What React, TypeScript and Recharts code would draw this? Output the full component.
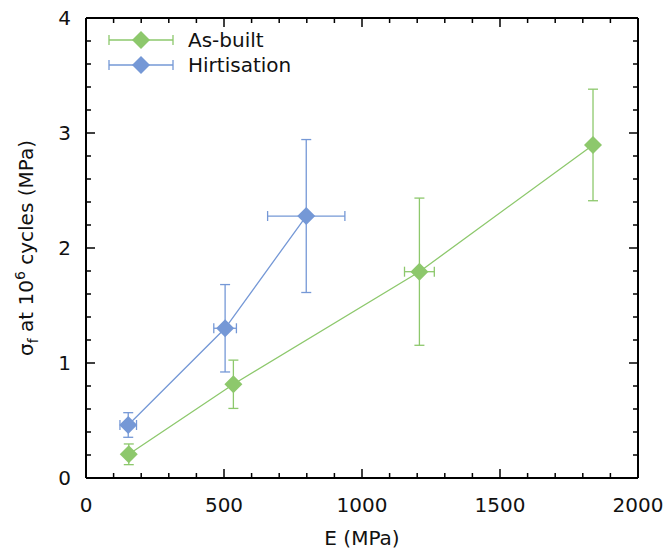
import React from "react";
import { ScatterChart, Scatter, XAxis, YAxis, ErrorBar } from "recharts";

const GREEN = "#8dc86c";
const BLUE = "#7598d6";
const FONT = "DejaVu Sans, sans-serif";

// As-built
const asBuiltE = [155, 534, 1208, 1837];
const asBuiltEErr = [10, 10, 54, 10];
const asBuiltSigma = [0.206, 0.815, 1.794, 2.896];
const asBuiltSigmaErr = [0.09, 0.21, 0.64, 0.485];

// Hirtisation
const hirtE = [153, 504, 798];
const hirtEErr = [30, 41, 140];
const hirtSigma = [0.461, 1.302, 2.278];
const hirtSigmaErr = [0.107, 0.38, 0.665];

const X_MAJOR = [0, 500, 1000, 1500, 2000];
const X_MINOR = [
  0, 100, 200, 300, 400, 500, 600, 700, 800, 900, 1000, 1100, 1200, 1300,
  1400, 1500, 1600, 1700, 1800, 1900, 2000,
];
const Y_MAJOR = [0, 1, 2, 3, 4];
const Y_MINOR = [
  0, 0.2, 0.4, 0.6, 0.8, 1, 1.2, 1.4, 1.6, 1.8, 2, 2.2, 2.4, 2.6, 2.8, 3, 3.2,
  3.4, 3.6, 3.8, 4,
];

const SERIES = [
  { name: "As-built", color: GREEN },
  { name: "Hirtisation", color: BLUE },
];

const build = (e: number[], eErr: number[], s: number[], sErr: number[]) =>
  e.map((x, i) => ({ x, xErr: eErr[i], y: s[i], yErr: sErr[i] }));

const asBuilt = build(asBuiltE, asBuiltEErr, asBuiltSigma, asBuiltSigmaErr);
const hirt = build(hirtE, hirtEErr, hirtSigma, hirtSigmaErr);

const W = 668;
const H = 551;
const MARGIN = { top: 18, right: 30, bottom: 73, left: 86 };
const PLOT_W = W - MARGIN.left - MARGIN.right;
const PLOT_H = H - MARGIN.top - MARGIN.bottom;

// axes with a zero size are skipped by recharts, so use a hair instead
const THIN = 0.001;
const MAJOR_LEN = 9;
const MINOR_LEN = 5;

const diamond = (color: string) => (props: any) => {
  const { cx, cy } = props;
  const r = 9;
  return (
    <polygon
      points={`${cx},${cy - r} ${cx + r},${cy} ${cx},${cy + r} ${cx - r},${cy}`}
      fill={color}
    />
  );
};

const axisLine = { stroke: "#000", strokeWidth: 2 };
const textProps = { fill: "#111", fontSize: 20, fontFamily: FONT };

// tickSize/tickMargin are 0, so the tick gets the point on the axis line;
// it draws the inward mark there and the mirrored one on the opposite side
function XTick(p: any) {
  const { x, y, payload } = p;
  const major = X_MAJOR.includes(payload.value);
  const len = major ? MAJOR_LEN : MINOR_LEN;
  const top = y - PLOT_H;
  return (
    <g>
      <line x1={x} y1={y} x2={x} y2={y - len} stroke="#000" strokeWidth={1.5} />
      <line x1={x} y1={top} x2={x} y2={top + len} stroke="#000" strokeWidth={1.5} />
      {major && (
        <text x={x} y={y + 34} textAnchor="middle" {...textProps}>
          {payload.value}
        </text>
      )}
    </g>
  );
}

// drawn from the right-hand axis; the left side is one plot width away
function YTick(p: any) {
  const { x, y, payload } = p;
  const major = Y_MAJOR.includes(payload.value);
  const len = major ? MAJOR_LEN : MINOR_LEN;
  const left = x - PLOT_W;
  return (
    <g>
      <line x1={x} y1={y} x2={x - len} y2={y} stroke="#000" strokeWidth={1.5} />
      <line x1={left} y1={y} x2={left + len} y2={y} stroke="#000" strokeWidth={1.5} />
      {major && (
        <text x={left - 15} y={y} dy="0.36em" textAnchor="end" {...textProps}>
          {payload.value}
        </text>
      )}
    </g>
  );
}

function LegendIcon({ color }: { color: string }) {
  return (
    <svg width={70} height={20} style={{ display: "block" }}>
      <line x1={3} y1={10} x2={67} y2={10} stroke={color} strokeWidth={1.3} />
      <line x1={3} y1={5} x2={3} y2={15} stroke={color} strokeWidth={1.3} />
      <line x1={67} y1={5} x2={67} y2={15} stroke={color} strokeWidth={1.3} />
      <polygon points="35,1 44,10 35,19 26,10" fill={color} />
    </svg>
  );
}

function ChartLegend() {
  return (
    <div
      style={{
        position: "absolute",
        left: 106,
        top: 27,
        fontFamily: FONT,
        fontSize: 20,
        color: "#111",
      }}
    >
      {SERIES.map((s) => (
        <div
          key={s.name}
          style={{ display: "flex", alignItems: "center", height: 25 }}
        >
          <LegendIcon color={s.color} />
          <span style={{ marginLeft: 12 }}>{s.name}</span>
        </div>
      ))}
    </div>
  );
}

function YLabel(props: any) {
  const vb = props.viewBox || { x: 86, y: 18, height: 460 };
  const cx = vb.x - 53;
  const cy = vb.y + vb.height / 2;
  return (
    <text
      x={cx}
      y={cy}
      transform={`rotate(-90, ${cx}, ${cy})`}
      textAnchor="middle"
      {...textProps}
    >
      <tspan>σ</tspan>
      <tspan fontSize={14} dy={5}>
        f
      </tspan>
      <tspan dy={-5}> at 10</tspan>
      <tspan fontSize={14} dy={-8}>
        6
      </tspan>
      <tspan dy={8}> cycles (MPa)</tspan>
    </text>
  );
}

const frameX = {
  type: "number" as const,
  domain: [0, 2000],
  interval: 0,
  height: THIN,
  tickSize: 0,
  tickMargin: 0,
  tickLine: false,
  allowDataOverflow: true,
};
const frameY = {
  type: "number" as const,
  domain: [0, 4],
  interval: 0,
  width: THIN,
  tickSize: 0,
  tickMargin: 0,
  tickLine: false,
  allowDataOverflow: true,
};

export default function App() {
  return (
    <div style={{ position: "absolute", left: 0, top: 0, background: "#fff" }}>
      <ScatterChart width={W} height={H} margin={MARGIN} style={{ fontFamily: FONT }}>
        <XAxis {...frameX} xAxisId="top" orientation="top" ticks={X_MAJOR} tick={false} axisLine={axisLine} />
        <YAxis {...frameY} yAxisId="right" orientation="right" ticks={Y_MINOR} tick={YTick} axisLine={axisLine} />
        <XAxis
          {...frameX}
          xAxisId="main"
          dataKey="x"
          ticks={X_MINOR}
          tick={XTick}
          axisLine={axisLine}
          label={{
            value: "E (MPa)",
            position: "bottom",
            offset: 53,
            ...textProps,
          }}
        />
        <YAxis
          {...frameY}
          yAxisId="main"
          dataKey="y"
          ticks={Y_MAJOR}
          tick={false}
          axisLine={axisLine}
          label={{ content: YLabel }}
        />
        <Scatter
          name="As-built"
          data={asBuilt}
          xAxisId="main"
          yAxisId="main"
          fill={GREEN}
          line={{ stroke: GREEN, strokeWidth: 1.3 }}
          lineType="joint"
          shape={diamond(GREEN)}
          isAnimationActive={false}
        >
          <ErrorBar dataKey="yErr" direction="y" width={5} stroke={GREEN} strokeWidth={1.3} />
          <ErrorBar dataKey="xErr" direction="x" width={5} stroke={GREEN} strokeWidth={1.3} />
        </Scatter>
        <Scatter
          name="Hirtisation"
          data={hirt}
          xAxisId="main"
          yAxisId="main"
          fill={BLUE}
          line={{ stroke: BLUE, strokeWidth: 1.3 }}
          lineType="joint"
          shape={diamond(BLUE)}
          isAnimationActive={false}
        >
          <ErrorBar dataKey="yErr" direction="y" width={5} stroke={BLUE} strokeWidth={1.3} />
          <ErrorBar dataKey="xErr" direction="x" width={5} stroke={BLUE} strokeWidth={1.3} />
        </Scatter>
      </ScatterChart>
      <ChartLegend />
    </div>
  );
}
